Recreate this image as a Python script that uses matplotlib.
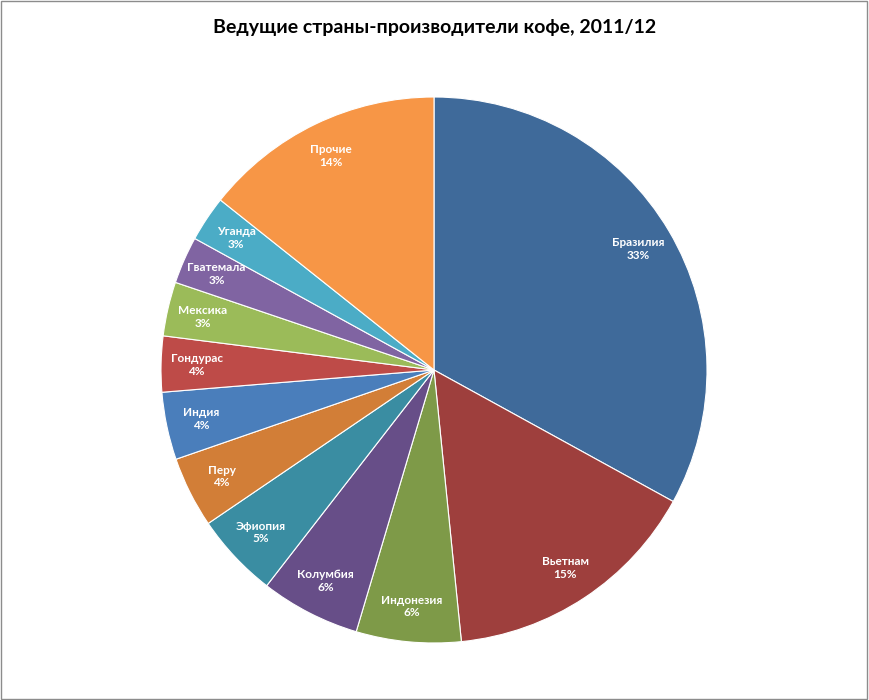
import matplotlib
matplotlib.use("Agg")
import matplotlib.pyplot as plt
from matplotlib.patches import Rectangle

countries = ["Бразилия", "Вьетнам", "Индонезия", "Колумбия", "Эфиопия", "Перу",
             "Индия", "Гондурас", "Мексика", "Гватемала", "Уганда", "Прочие"]
values = [33.0, 15.4, 6.2, 5.9, 5.0, 4.2, 4.0, 3.3, 3.2, 2.8, 2.7, 14.3]
pct_labels = ["33%", "15%", "6%", "6%", "5%", "4%", "4%", "4%", "3%", "3%", "3%", "14%"]
colors = ["#3F6A9A", "#9E3F3D", "#7E9A48", "#674E88", "#3A8DA2", "#D27E37",
          "#4A7EBB", "#BE4B48", "#9BBB59", "#8064A2", "#4BACC6", "#F79646"]

plt.rcParams['font.family'] = ['Lato', 'DejaVu Sans']
fig = plt.figure(figsize=(8.69, 7.0), dpi=100)
fig.patches.append(Rectangle((0.001, 0.001), 0.997, 0.997, transform=fig.transFigure,
                             fill=False, edgecolor="#8C8C8C", linewidth=1))
ax = fig.add_axes([161/869, 57/700, 546/869, 546/700])
labels = [f"{c}\n{p}" for c, p in zip(countries, pct_labels)]
wedges, texts = ax.pie(values, colors=colors, startangle=90, counterclock=False,
                       labels=labels, labeldistance=0.87,
                       wedgeprops=dict(edgecolor="white", linewidth=0.8),
                       textprops=dict(color="white", fontsize=8.5, fontweight="bold"))
for t in texts:
    t.set_ha("center")
    t.set_va("center")
    t.set_multialignment("center")
ax.set_aspect("equal")
ax.set_xlim(-1, 1)
ax.set_ylim(-1, 1)
fig.text(0.5, 1 - 28/700, "Ведущие страны-производители кофе, 2011/12",
         ha="center", va="center", fontsize=14, fontweight="bold")
fig.savefig("out.png", dpi=100)
